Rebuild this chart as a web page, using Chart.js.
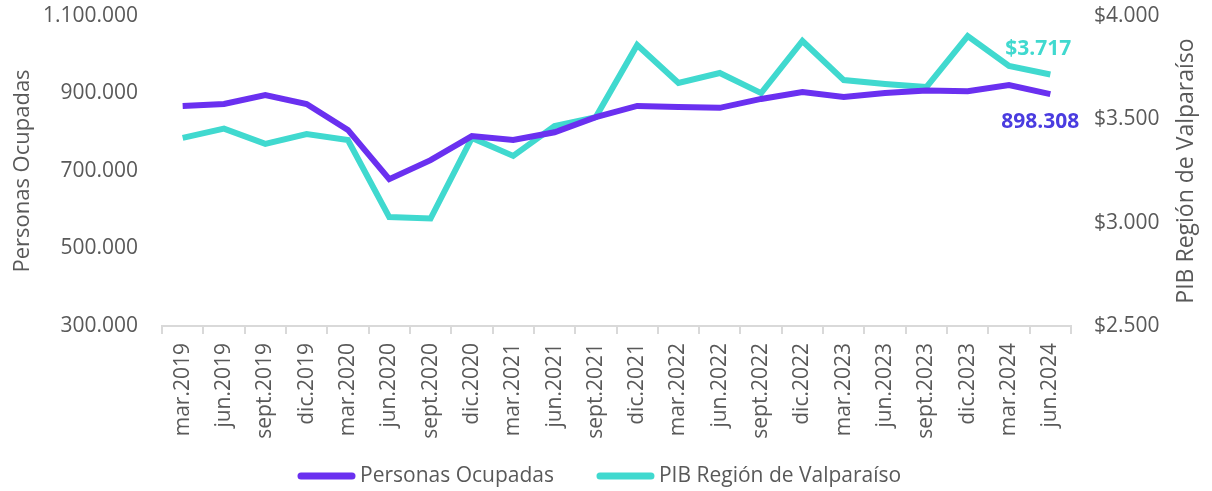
<!DOCTYPE html>
<html>
<head>
<meta charset="utf-8">
<script src="https://cdn.jsdelivr.net/npm/chart.js@4.4.1/dist/chart.umd.min.js"></script>
<style>
  html, body { margin: 0; padding: 0; background: #fff; }
  #wrap { width: 1212px; height: 491px; }
</style>
</head>
<body>
<div id="wrap"><canvas id="chart" width="1212" height="491"></canvas></div>
<script>
const labels = ['mar.2019', 'jun.2019', 'sept.2019', 'dic.2019', 'mar.2020', 'jun.2020', 'sept.2020', 'dic.2020',
    'mar.2021', 'jun.2021', 'sept.2021', 'dic.2021', 'mar.2022', 'jun.2022', 'sept.2022', 'dic.2022',
    'mar.2023', 'jun.2023', 'sept.2023', 'dic.2023', 'mar.2024', 'jun.2024'];

const personasOcupadas = [868000, 873000, 896000, 873000, 806000, 679000, 728000, 790000,
    780000, 800000, 839000, 868000, 865000, 863000, 886000, 904000,
    891000, 901000, 908000, 906000, 922000, 898308];

const pibValparaiso = [3410, 3455, 3381, 3429, 3400, 3027, 3020, 3410,
    3323, 3468, 3511, 3860, 3676, 3724, 3627, 3879,
    3690, 3671, 3656, 3903, 3758, 3717];

const PURPLE = '#6a30f0';
const TEAL = '#40d9cf';
const GREY = '#595959';
const FONT = "'Open Sans', 'Liberation Sans', sans-serif";

function fmt(n) {
    return Math.round(n).toString().replace(/\B(?=(\d{3})+(?!\d))/g, '.');
}

// last-point labels, right axis title (reads bottom to top) and the legend row
const extras = {
    id: 'extras',
    afterDatasetsDraw(chart) {
        const ctx = chart.ctx;
        const x = chart.scales.x;
        const yL = chart.scales.y;
        const yR = chart.scales.y1;
        const last = labels.length - 1;
        const px = x.getPixelForValue(last);

        ctx.save();
        ctx.font = "bold 21px " + FONT;
        ctx.textAlign = 'center';
        ctx.textBaseline = 'middle';
        ctx.fillStyle = TEAL;
        ctx.fillText('$' + fmt(pibValparaiso[last]), px - 12, yR.getPixelForValue(pibValparaiso[last]) - 25);
        ctx.fillStyle = '#4a3ce0';
        ctx.fillText(fmt(personasOcupadas[last]), px - 10, yL.getPixelForValue(personasOcupadas[last]) + 28);
        ctx.restore();

        ctx.save();
        const area = chart.chartArea;
        ctx.translate(1186, (area.top + area.bottom) / 2);
        ctx.rotate(-Math.PI / 2);
        ctx.font = "23px " + FONT;
        ctx.fillStyle = GREY;
        ctx.textAlign = 'center';
        ctx.textBaseline = 'middle';
        ctx.fillText('PIB Región de Valparaíso', 0, 0);
        ctx.restore();

        // legend
        ctx.save();
        ctx.font = "21px " + FONT;
        ctx.textBaseline = 'middle';
        ctx.textAlign = 'left';
        let lx = 298;
        const ly = 476;
        chart.data.datasets.forEach(ds => {
            ctx.strokeStyle = ds.borderColor;
            ctx.lineWidth = 7;
            ctx.lineCap = 'round';
            ctx.beginPath();
            ctx.moveTo(lx + 3, ly);
            ctx.lineTo(lx + 54, ly);
            ctx.stroke();
            ctx.fillStyle = GREY;
            ctx.fillText(ds.label, lx + 62, ly);
            lx += 62 + ctx.measureText(ds.label).width + 43;
        });
        ctx.restore();
    }
};

function noVPad(scale) {
    scale.paddingTop = 0;
    scale.paddingBottom = 0;
}

new Chart(document.getElementById('chart'), {
    type: 'line',
    data: {
        labels: labels,
        datasets: [{
            label: 'Personas Ocupadas',
            data: personasOcupadas,
            borderColor: PURPLE,
            backgroundColor: PURPLE,
            borderWidth: 6,
            pointRadius: 0,
            tension: 0,
            yAxisID: 'y'
        }, {
            label: 'PIB Región de Valparaíso',
            data: pibValparaiso,
            borderColor: TEAL,
            backgroundColor: TEAL,
            borderWidth: 6,
            pointRadius: 0,
            tension: 0,
            yAxisID: 'y1'
        }]
    },
    options: {
        responsive: false,
        animation: false,
        layout: { padding: { top: 16, bottom: 0, left: 0, right: 20 } },
        plugins: {
            tooltip: { enabled: false },
            legend: { display: false }
        },
        scales: {
            x: {
                offset: true,
                grid: { offset: true, drawOnChartArea: false, tickLength: 8, color: '#d9d9d9', lineWidth: 2 },
                border: { color: '#d9d9d9', width: 2 },
                ticks: {
                    font: { family: FONT, size: 21 },
                    color: GREY,
                    minRotation: 90,
                    maxRotation: 90,
                    autoSkip: false,
                    padding: 9
                },
                afterFit(scale) { scale.height = 165; }
            },
            y: {
                position: 'left',
                min: 300000,
                max: 1100000,
                grid: { display: false },
                border: { display: false },
                ticks: {
                    stepSize: 200000,
                    font: { family: FONT, size: 21 },
                    color: GREY,
                    padding: 16,
                    callback: v => fmt(v)
                },
                title: {
                    display: true,
                    text: 'Personas Ocupadas',
                    font: { family: FONT, size: 22 },
                    color: GREY,
                    padding: { top: 10, bottom: 0 }
                },
                afterFit(scale) { scale.width = 162; noVPad(scale); }
            },
            y1: {
                position: 'right',
                min: 2500,
                max: 4000,
                grid: { display: false },
                border: { display: false },
                ticks: {
                    stepSize: 500,
                    font: { family: FONT, size: 21 },
                    color: GREY,
                    padding: 15,
                    callback: v => '$' + fmt(v)
                },
                afterFit(scale) { scale.width = 121; noVPad(scale); }
            }
        }
    },
    plugins: [extras]
});
</script>
</body>
</html>
